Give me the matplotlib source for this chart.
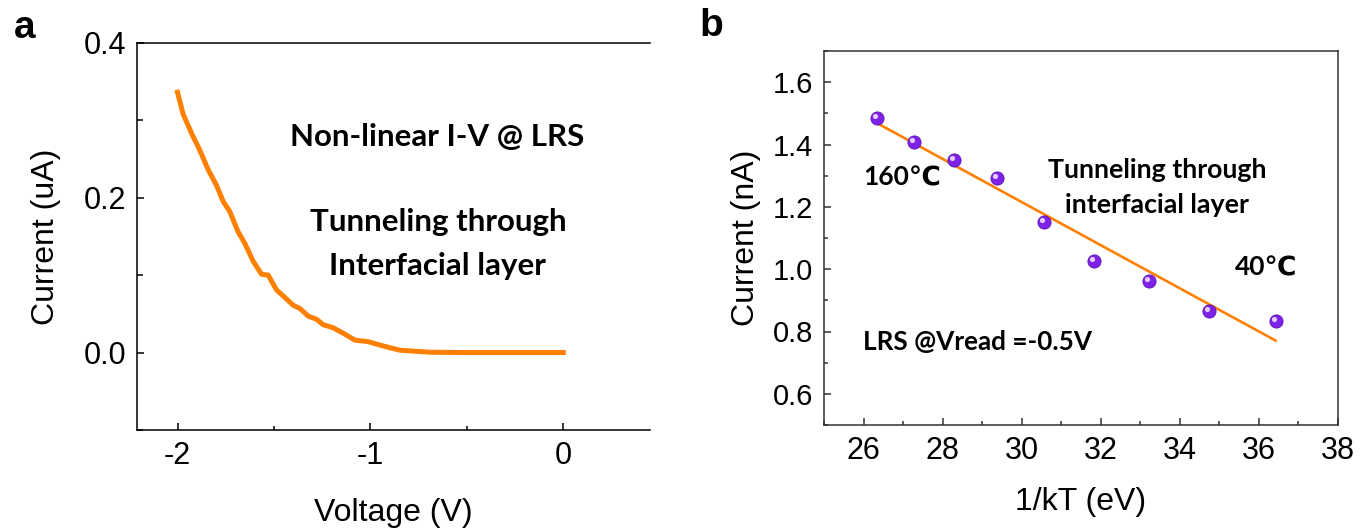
import matplotlib
matplotlib.use('Agg')
import matplotlib.pyplot as plt
import matplotlib.transforms as mtransforms
from matplotlib.ticker import MultipleLocator

plt.rcParams['font.family'] = ['Liberation Sans', 'DejaVu Sans']

# panel a: I-V sweep at LRS
volt = [-2.0, -1.971, -1.927, -1.884, -1.841, -1.798, -1.763, -1.729, -1.686, -1.651,
        -1.608, -1.564, -1.530, -1.487, -1.443, -1.400, -1.366, -1.322, -1.279, -1.245,
        -1.193, -1.141, -1.080, -1.011, -0.934, -0.847, -0.691, -0.52, -0.3, 0.0]
curr_ua = [0.336, 0.308, 0.283, 0.261, 0.236, 0.216, 0.195, 0.182, 0.156, 0.141,
           0.118, 0.101, 0.100, 0.081, 0.071, 0.061, 0.057, 0.047, 0.043, 0.036,
           0.032, 0.025, 0.016, 0.014, 0.0085, 0.003, 0.0004, 0.0, 0.0, 0.0]

# panel b: current vs 1/kT
inv_kt = [26.33, 27.28, 28.30, 29.38, 30.57, 31.84, 33.23, 34.74, 36.42]
curr_na = [1.484, 1.409, 1.349, 1.292, 1.152, 1.026, 0.961, 0.866, 0.835]
fit_x = [26.35, 36.42]
fit_y = [1.468, 0.771]

orange = '#ff8000'
bold_font = ['Lato', 'DejaVu Sans']

fig = plt.figure(figsize=(13.6, 5.29), dpi=100)

# ---- panel a ----
ax1 = fig.add_axes([137/1360, 99/529, 513/1360, 387.3/529])
ax1.plot(volt, curr_ua, color=orange, lw=3.6, solid_joinstyle='round')
ax1.set_xlim(-2.21, 0.45)
ax1.set_ylim(-0.1, 0.4)
ax1.set_xticks([-2, -1, 0])
ax1.set_xticklabels(['-2', '-1', '0'])
ax1.xaxis.set_minor_locator(MultipleLocator(0.5))
ax1.set_yticks([0.0, 0.2, 0.4])
ax1.yaxis.set_minor_locator(MultipleLocator(0.1))
ax1.spines['right'].set_visible(False)
for s in ax1.spines.values():
    s.set_linewidth(1.1)
ax1.tick_params(which='both', direction='in', labelsize=22, width=1.1)
ax1.tick_params(which='major', length=5, pad=8)
ax1.tick_params(which='minor', length=3)
ax1.tick_params(axis='y', which='minor', length=4)
ax1.set_xlabel('Voltage (V)', fontsize=23, labelpad=19)
ax1.set_ylabel('Current (uA)', fontsize=23, labelpad=16)

ax1.text(-0.655, 0.278, 'Non-linear I-V @ LRS', family=bold_font, weight='bold',
         fontsize=22.5, ha='center', va='center')
ax1.text(-0.65, 0.169, 'Tunneling through', family=bold_font, weight='bold',
         fontsize=22.5, ha='center', va='center')
ax1.text(-0.65, 0.112, 'Interfacial layer', family=bold_font, weight='bold',
         fontsize=22.5, ha='center', va='center')

# ---- panel b ----
ax2 = fig.add_axes([824/1360, 104/529, 514/1360, 374/529])
ax2.plot(fit_x, fit_y, color=orange, lw=1.9, zorder=2)
ax2.scatter(inv_kt, curr_na, s=90, color='#7d22e6', edgecolors='#5a12b8',
            linewidths=0.6, zorder=3)
hl = mtransforms.offset_copy(ax2.transData, fig=fig, x=-2, y=2, units='dots')
ax2.scatter(inv_kt, curr_na, s=14, color='#e2ccff', transform=hl, zorder=4,
            linewidths=0)
ax2.set_xlim(25, 38)
ax2.set_ylim(0.5, 1.7)
ax2.set_xticks([26, 28, 30, 32, 34, 36, 38])
ax2.xaxis.set_minor_locator(MultipleLocator(1))
ax2.set_yticks([0.6, 0.8, 1.0, 1.2, 1.4, 1.6])
ax2.yaxis.set_minor_locator(MultipleLocator(0.1))
for s in ax2.spines.values():
    s.set_linewidth(1.1)
    s.set_color('#333333')
ax2.tick_params(which='both', direction='in', width=1.1, color='#333333')
ax2.tick_params(axis='x', labelsize=22)
ax2.tick_params(axis='y', labelsize=21)
ax2.tick_params(which='major', length=5, pad=8)
ax2.tick_params(which='minor', length=3)
ax2.set_xlabel('1/kT (eV)', fontsize=23, labelpad=15)
ax2.set_ylabel('Current (nA)', fontsize=23, labelpad=8)

ax2.text(0.076, 0.663, '160\u2103', transform=ax2.transAxes, family=bold_font,
         weight='bold', fontsize=19, ha='left', va='center')
ax2.text(0.648, 0.682, 'Tunneling through', transform=ax2.transAxes,
         family=bold_font, weight='bold', fontsize=19.3, ha='center', va='center')
ax2.text(0.648, 0.588, 'interfacial layer', transform=ax2.transAxes,
         family=bold_font, weight='bold', fontsize=19.3, ha='center', va='center')
ax2.text(0.80, 0.42, '40\u2103', transform=ax2.transAxes, family=bold_font,
         weight='bold', fontsize=19, ha='left', va='center')
ax2.text(0.076, 0.222, 'LRS @Vread =-0.5V', transform=ax2.transAxes,
         family=bold_font, weight='bold', fontsize=18.8, ha='left', va='center')

# panel letters
fig.text(25/1360, 1 - 28/529, 'a', fontsize=28, weight='bold', ha='center', va='center')
fig.text(711/1360, 1 - 26/529, 'b', fontsize=28, weight='bold', ha='center', va='center')

fig.savefig('out.png', dpi=100)
